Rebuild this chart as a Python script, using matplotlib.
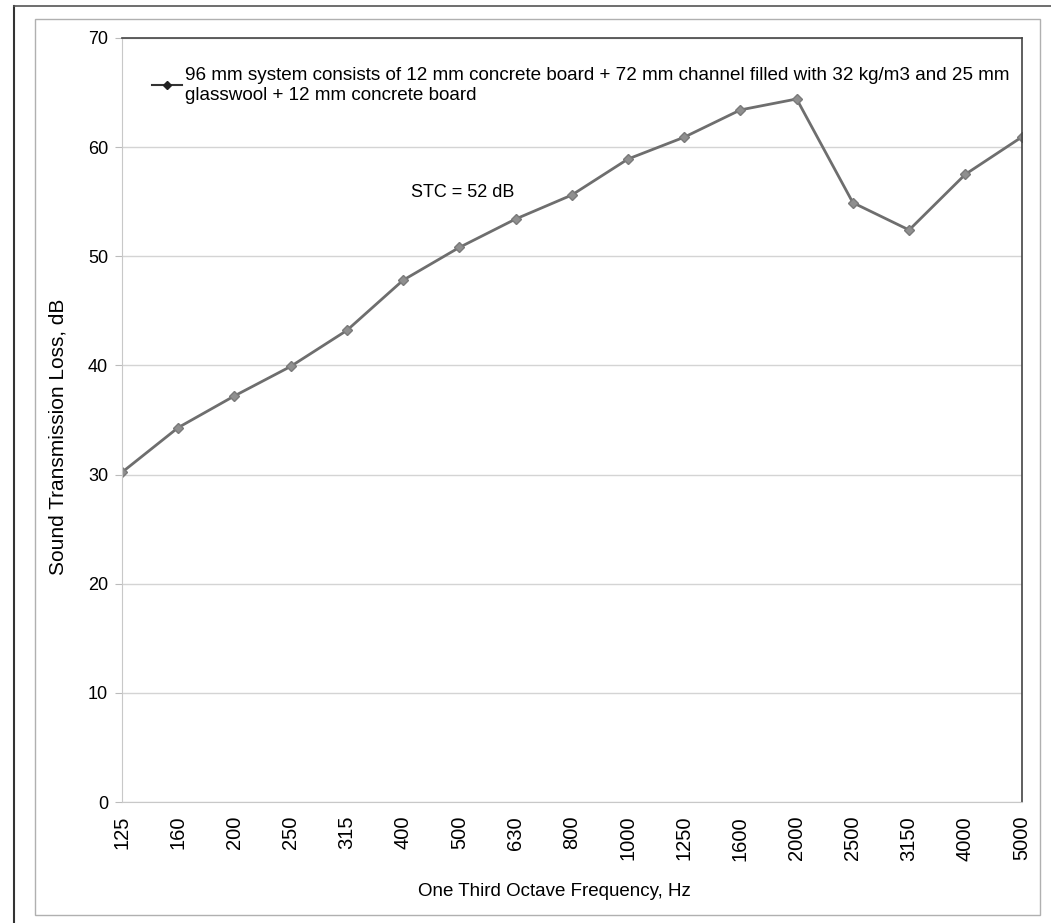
import numpy as np
import matplotlib
matplotlib.use("Agg")
import matplotlib.pyplot as plt
from matplotlib.patches import Rectangle
from matplotlib.lines import Line2D

plt.rcParams["font.family"] = ["Liberation Sans", "DejaVu Sans"]

# data
freqs = ["125", "160", "200", "250", "315", "400", "500", "630", "800", "1000",
         "1250", "1600", "2000", "2500", "3150", "4000", "5000"]
stl = [30.2, 34.3, 37.2, 39.9, 43.2, 47.8, 50.8, 53.4, 55.6, 58.9,
       60.9, 63.4, 64.4, 54.9, 52.4, 57.5, 60.9]
yticks = [0, 10, 20, 30, 40, 50, 60, 70]
series_label = ("96 mm system consists of 12 mm concrete board + 72 mm channel filled with 32 kg/m3 and 25 mm\n"
                "glasswool + 12 mm concrete board")
stc_note = "STC = 52 dB"

fig = plt.figure(figsize=(10.51, 9.23), dpi=100)
ax = fig.add_axes([0.116, 0.131, 0.856, 0.828])

x = np.arange(len(freqs))
line, = ax.plot(x, stl, color="#6e6e6e", lw=2.0, marker="D", ms=5,
                mfc="#8f8f8f", mec="#7a7a7a")

ax.set_xlim(0, len(freqs) - 1)
ax.set_ylim(0, 70)
ax.set_yticks(yticks)
ax.set_xticks(x)
ax.set_xticklabels(freqs, rotation=90, fontsize=14.5)
ax.tick_params(axis="y", labelsize=13, length=5, color="#bbbbbb", pad=5)
ax.tick_params(axis="x", length=0, pad=10)
ax.yaxis.grid(True, color="#d4d4d4", lw=1)
ax.set_axisbelow(True)

for side in ["left", "bottom"]:
    ax.spines[side].set_color("#c8c8c8")
for side in ["top", "right"]:
    ax.spines[side].set_color("#444444")
    ax.spines[side].set_linewidth(1.2)

ax.set_ylabel("Sound Transmission Loss, dB", fontsize=15)
ax.yaxis.set_label_coords(-0.06, 0.478)
ax.set_xlabel("One Third Octave Frequency, Hz", fontsize=13.5)
ax.xaxis.set_label_coords(0.481, -0.106)

# legend handle is drawn dark, like the original key
key = Line2D([], [], color="#333333", lw=1.5, marker="D", ms=4.5,
             mfc="#222222", mec="#222222")
leg = ax.legend(handles=[key], labels=[series_label], loc="upper left",
                bbox_to_anchor=(0.0245, 0.972), frameon=False, fontsize=13.6,
                handlelength=1.6, handletextpad=0.15, borderaxespad=0)
leg.get_texts()[0].set_linespacing(1.27)

ax.text(5.15, 55.8, stc_note, fontsize=13, ha="left", va="center")

# chart frame (light) and the page edge lines (dark)
fig.patches.append(Rectangle((35 / 1051, 1 - 915 / 923), 1005 / 1051, 896 / 923,
                             transform=fig.transFigure, fill=False, ec="#b0b0b0", lw=1.0))
fig.lines.append(Line2D([14 / 1051, 14 / 1051], [0, 1 - 6 / 923], transform=fig.transFigure,
                        color="#333333", lw=1.5))
fig.lines.append(Line2D([14 / 1051, 1], [1 - 6 / 923, 1 - 6 / 923], transform=fig.transFigure,
                        color="#555555", lw=1.2))

fig.savefig("out.png", dpi=100)
